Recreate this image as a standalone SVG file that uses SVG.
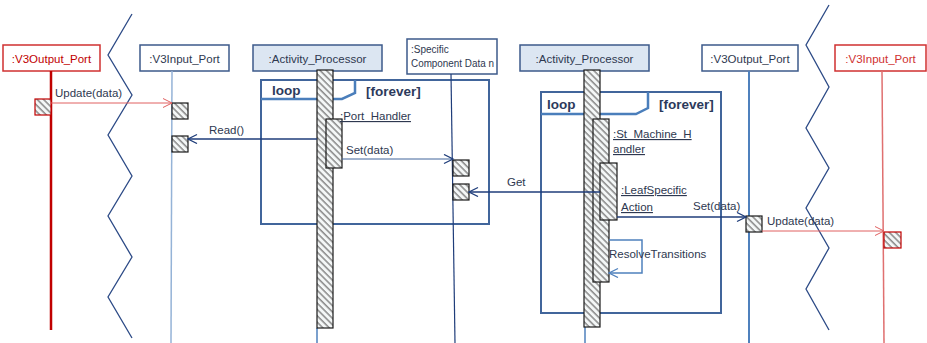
<svg xmlns="http://www.w3.org/2000/svg" width="927" height="343" viewBox="0 0 927 343">
<defs>
<pattern id="hatch" patternUnits="userSpaceOnUse" width="4.5" height="4.5" patternTransform="rotate(-45)">
<rect width="4.5" height="4.5" fill="#f4f7f7"/>
<line x1="1" y1="0" x2="1" y2="4.5" stroke="#808080" stroke-width="1.4"/>
</pattern>
<marker id="arRed" markerUnits="userSpaceOnUse" markerWidth="12" markerHeight="12" refX="10" refY="5" orient="auto" viewBox="0 0 12 12">
<path d="M1,0.5 L10,5 L1,9.5" fill="none" stroke="#e06060" stroke-width="1"/>
</marker>
<marker id="arNavy" markerUnits="userSpaceOnUse" markerWidth="12" markerHeight="12" refX="10" refY="5" orient="auto" viewBox="0 0 12 12">
<path d="M1,0.5 L10,5 L1,9.5" fill="none" stroke="#1f3d7a" stroke-width="1.3"/>
</marker>
<marker id="arLight" markerUnits="userSpaceOnUse" markerWidth="12" markerHeight="12" refX="10" refY="5" orient="auto" viewBox="0 0 12 12">
<path d="M1,0.5 L10,5 L1,9.5" fill="none" stroke="#4f81bd" stroke-width="1.3"/>
</marker>
</defs>
<style>
text{font-family:"Liberation Sans",Arial,sans-serif;font-size:11.5px;fill:#2e3850}
.hd{fill:#fff;stroke:#3c5a8a;stroke-width:1.5}
.ap{fill:#dce6f2;stroke:#3c5a8a;stroke-width:1.5}
.red{fill:#fff;stroke:#d03030;stroke-width:1.5}
.bar{fill:url(#hatch);stroke:#1a1a1a;stroke-width:1.2}
.rbar{fill:url(#hatch);stroke:#c00000;stroke-width:1.2}
.frame{fill:none;stroke:#41659b;stroke-width:2}
.tab{fill:none;stroke:#4a7ebb;stroke-width:2.5}
.bold{font-weight:bold;font-size:13.5px;fill:#2c3a5c}
.ul{text-decoration:underline}
.zig{fill:none;stroke:#2c4a86;stroke-width:1.3}
</style>

<g id="zigzags">
<polyline class="zig" points="132,14 108,55 132,95 108,135 132,176 108,216 132,257 108,297 132,338"/>
<polyline class="zig" points="829,5 806,45 829,87 806,128 829,168 806,208 829,248 806,289 829,330"/>
</g>

<g id="loop1">
<rect class="frame" x="261" y="80" width="228" height="144"/>
<polyline class="tab" points="261,99 342,99 355,93 355,80"/>
<text class="bold" x="272" y="95">loop</text>
<text class="bold" x="366" y="96">[forever]</text>
</g>

<g id="loop2">
<rect class="frame" x="541" y="92" width="180" height="221"/>
<polyline class="tab" points="541,114 636,114 648,108 648,92"/>
<text class="bold" x="547" y="109">loop</text>
<text class="bold" x="659" y="109">[forever]</text>
</g>

<g id="v3output-left">
<rect class="red" x="3" y="45" width="97" height="26"/>
<text x="51.5" y="63" text-anchor="middle" style="fill:#c00000">:V3Output_Port</text>
<line x1="51" y1="71" x2="51" y2="330" stroke="#c00000" stroke-width="2.5"/>
<rect class="rbar" x="35" y="99" width="16" height="16"/>
</g>

<g id="v3input-left">
<rect class="hd" x="140" y="45" width="89" height="26"/>
<text x="184.5" y="63" text-anchor="middle">:V3Input_Port</text>
<line x1="172" y1="71" x2="171" y2="343" stroke="#95b3d7" stroke-width="1.5"/>
<rect class="bar" x="172" y="103" width="16" height="16"/>
<rect class="bar" x="172" y="136" width="16" height="16"/>
</g>

<g id="activity-processor-1">
<rect class="ap" x="253" y="45" width="129" height="26"/>
<text x="317.5" y="63" text-anchor="middle">:Activity_Processor</text>
<line x1="317" y1="328" x2="317" y2="343" stroke="#4f81bd" stroke-width="1.5"/>
<rect class="bar" x="317" y="70" width="16" height="258"/>
<rect class="bar" x="326" y="119" width="16" height="49"/>
<text class="ul" x="340" y="120">:Port_Handler</text>
</g>

<g id="specific-component-data">
<rect class="hd" x="407" y="39" width="90" height="35"/>
<text x="411" y="53" style="font-size:10px">:Specific</text>
<text x="411" y="67" style="font-size:10px" textLength="83" lengthAdjust="spacingAndGlyphs">Component Data n</text>
<line x1="451" y1="74" x2="455" y2="343" stroke="#1f3d7a" stroke-width="1.2"/>
<rect class="bar" x="453" y="160" width="16" height="16"/>
<rect class="bar" x="453" y="184" width="16" height="16"/>
</g>

<g id="activity-processor-2">
<rect class="ap" x="520" y="45" width="129" height="26"/>
<text x="584.5" y="63" text-anchor="middle">:Activity_Processor</text>
<line x1="585" y1="327" x2="585" y2="343" stroke="#4f81bd" stroke-width="1.5"/>
<rect class="bar" x="584" y="70" width="16" height="257"/>
<rect class="bar" x="593" y="119" width="16" height="163"/>
<rect class="bar" x="600" y="163" width="17" height="57"/>
<text class="ul" x="613" y="138">:St_Machine_H</text>
<text class="ul" x="613" y="153">andler</text>
<text class="ul" x="621" y="194">:LeafSpecific</text>
<text class="ul" x="621" y="211">Action</text>
</g>

<g id="v3output-right">
<rect class="hd" x="702" y="45" width="96" height="26"/>
<text x="750" y="63" text-anchor="middle">:V3Output_Port</text>
<line x1="749" y1="71" x2="749" y2="343" stroke="#4f81bd" stroke-width="2"/>
<rect class="bar" x="746" y="216" width="16" height="16"/>
</g>

<g id="v3input-right">
<rect class="red" x="835" y="45" width="91" height="26"/>
<text x="880.5" y="63" text-anchor="middle" style="fill:#d03030">:V3Input_Port</text>
<line x1="882" y1="71" x2="884" y2="343" stroke="#e07070" stroke-width="1.5"/>
<rect class="rbar" x="884" y="232" width="17" height="16"/>
</g>

<g id="connectors">
<line x1="51" y1="103" x2="172" y2="103" stroke="#e06060" stroke-width="1" marker-end="url(#arRed)"/>
<text x="55" y="97">Update(data)</text>
<line x1="317" y1="139" x2="188" y2="139" stroke="#1f3d7a" stroke-width="1.3" marker-end="url(#arNavy)"/>
<text x="209" y="134">Read()</text>
<line x1="342" y1="159" x2="453" y2="159" stroke="#41659b" stroke-width="1" marker-end="url(#arNavy)"/>
<text x="346" y="154">Set(data)</text>
<line x1="600" y1="192" x2="469" y2="192" stroke="#1f3d7a" stroke-width="1.3" marker-end="url(#arNavy)"/>
<text x="507" y="186">Get</text>
<line x1="617" y1="217" x2="746" y2="217" stroke="#1f3d7a" stroke-width="1.3" marker-end="url(#arNavy)"/>
<text x="693" y="210">Set(data)</text>
<line x1="762" y1="231" x2="884" y2="231" stroke="#e06060" stroke-width="1" marker-end="url(#arRed)"/>
<text x="767" y="225">Update(data)</text>
<polyline points="609,240 642,240 642,273 609,273" fill="none" stroke="#4f81bd" stroke-width="1.5" marker-end="url(#arLight)"/>
<text x="609" y="258">ResolveTransitions</text>
</g>
</svg>
